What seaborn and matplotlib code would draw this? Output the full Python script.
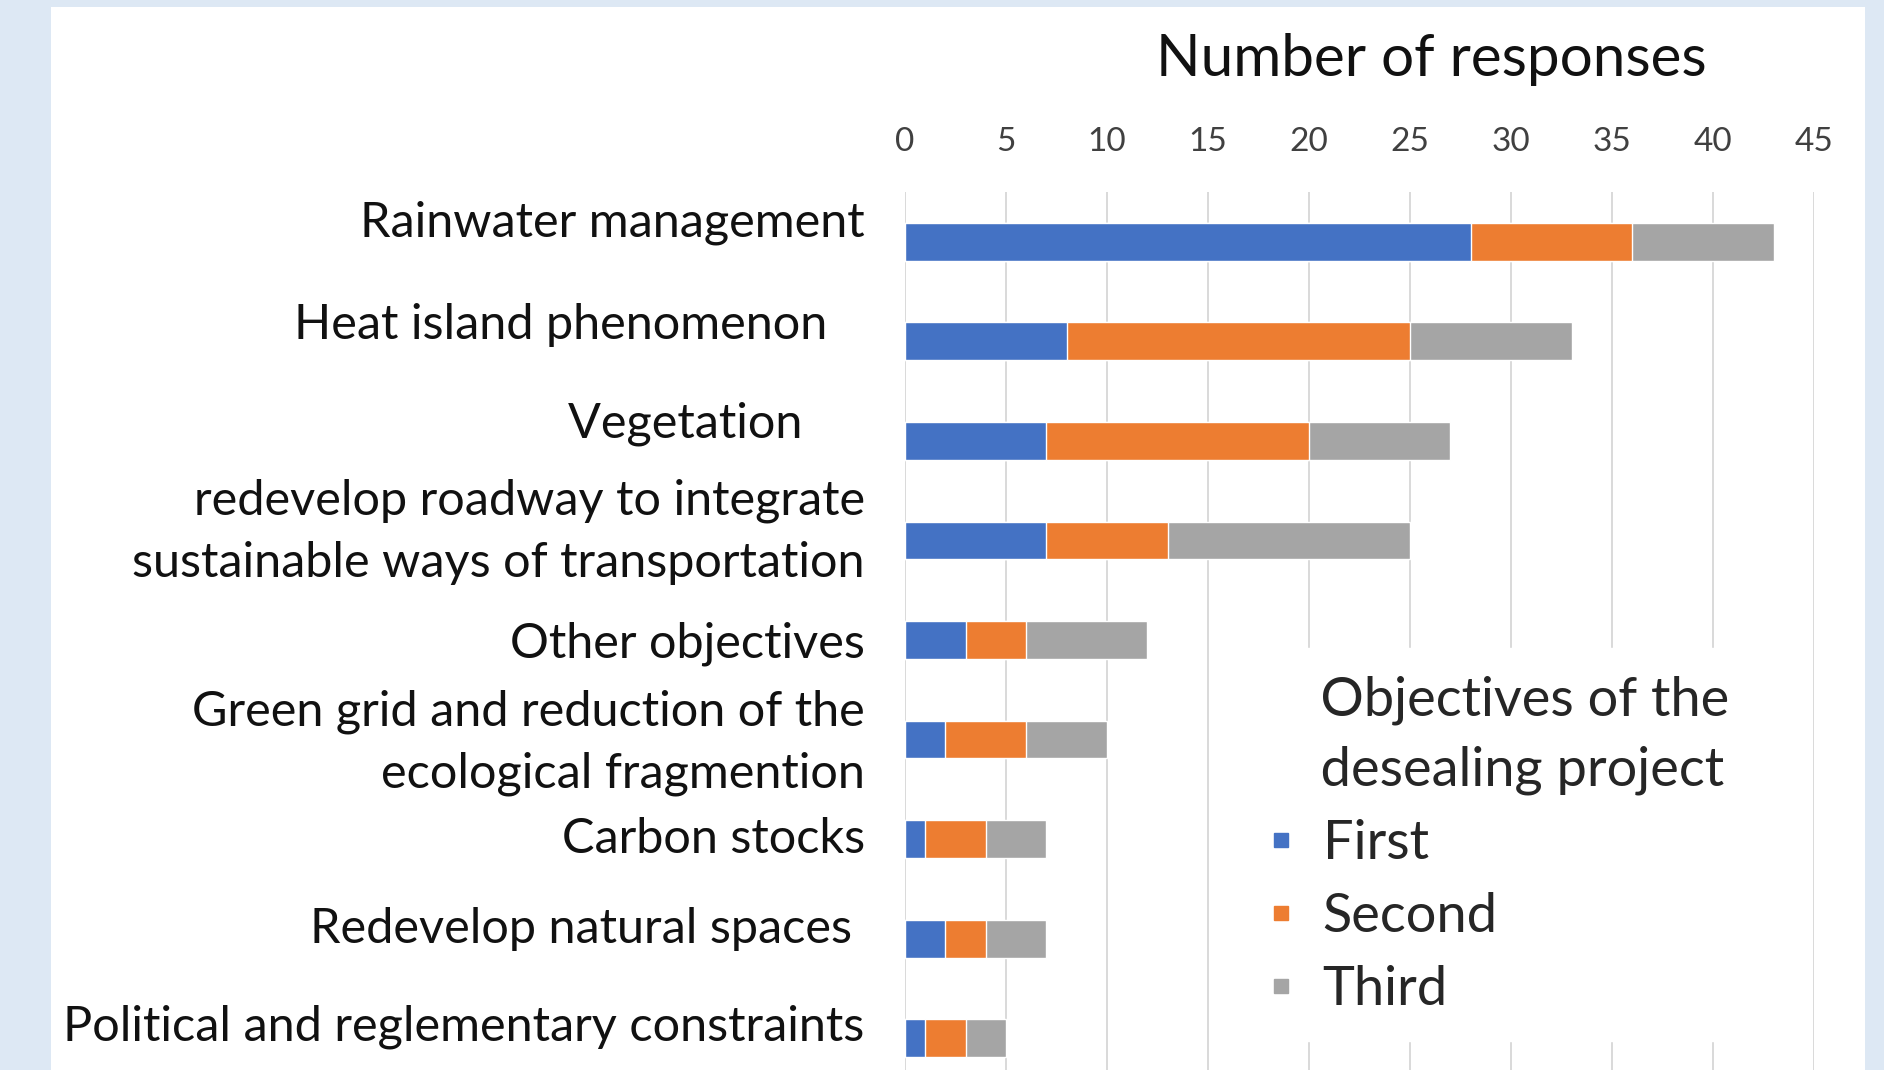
import matplotlib
matplotlib.use("Agg")
import matplotlib.pyplot as plt
import matplotlib.transforms as mtransforms
from matplotlib.lines import Line2D
from matplotlib.patches import Rectangle
import numpy as np
import seaborn as sns

# données
categories = [
    "Rainwater management",
    "Heat island phenomenon   ",
    "Vegetation     ",
    "redevelop roadway to integrate\nsustainable ways of transportation",
    "Other objectives",
    "Green grid and reduction of the\necological fragmention",
    "Carbon stocks",
    "Redevelop natural spaces ",
    "Political and reglementary constraints",
]
first = [28, 8, 7, 7, 3, 2, 1, 2, 1]
second = [8, 17, 13, 6, 3, 4, 3, 2, 2]
third = [7, 8, 7, 12, 6, 4, 3, 3, 2]
series_names = ["First", "Second", "Third"]
xticks = list(range(0, 46, 5))

colors = ["#4472C4", "#ED7D31", "#A5A5A5"]
label_dy = [23, 20, 21, 22, 1, 10, 4, 14, 16]  # petits décalages verticaux (px)

sns.set_style("white")
plt.rcParams["font.family"] = ["Lato", "DejaVu Sans"]

W, H = 1884, 1070
fig = plt.figure(figsize=(W / 100, H / 100), dpi=100)
fig.patch.set_facecolor("#DDE8F4")
fig.add_artist(Rectangle((51 / W, 0), (1865 - 51) / W, 1 - 7 / H,
                         transform=fig.transFigure, facecolor="white",
                         edgecolor="none", zorder=0))

ax = fig.add_axes([905 / W, 1 - 1088 / H, (1814 - 905) / W, (1088 - 192) / H])
ax.patch.set_visible(False)

f = np.array(first)
s = np.array(second)
t = np.array(third)

# barres empilées : total, puis first+second, puis first par-dessus
sns.barplot(x=f + s + t, y=categories, color=colors[2], width=0.38,
            saturation=1, orient="h", ax=ax)
sns.barplot(x=f + s, y=categories, color=colors[1], width=0.38,
            saturation=1, orient="h", ax=ax)
sns.barplot(x=f, y=categories, color=colors[0], width=0.38,
            saturation=1, orient="h", ax=ax)

ax.set_xlim(0, 45)
ax.set_xticks(xticks)
ax.xaxis.tick_top()
ax.tick_params(axis="x", length=0, pad=25, labelsize=24, labelcolor="#404040")
ax.tick_params(axis="y", length=0, pad=29, labelsize=35, labelcolor="#111111")
ax.grid(axis="x", color="#D9D9D9", lw=1.4)
ax.set_axisbelow(True)
ax.set_xlabel("")
ax.set_ylabel("")
for sp in ax.spines.values():
    sp.set_visible(False)

for lab, dy in zip(ax.get_yticklabels(), label_dy):
    lab.set_linespacing(1.5)
    lab.set_transform(lab.get_transform() +
                      mtransforms.ScaledTranslation(0, dy / 100, fig.dpi_scale_trans))

fig.text(1431 / W, 1 - 59 / H, "Number of responses", ha="center", va="center",
         fontsize=42, color="#111111")

handles = [Line2D([], [], marker="s", ls="", color=c, markersize=10) for c in colors]
leg = fig.legend(handles, series_names,
                 title="    Objectives of the\n    desealing project",
                 loc="upper left", bbox_to_anchor=(1211 / W, 1 - 621 / H),
                 bbox_transform=fig.transFigure, fontsize=39, title_fontsize=39,
                 alignment="left", frameon=True, facecolor="white",
                 edgecolor="white", framealpha=1, fancybox=False,
                 handlelength=0.6, handletextpad=0.46, labelspacing=0.44,
                 borderpad=0.5)
leg.get_title().set_linespacing(1.53)

fig.savefig("out.png", dpi=100, facecolor=fig.get_facecolor())
